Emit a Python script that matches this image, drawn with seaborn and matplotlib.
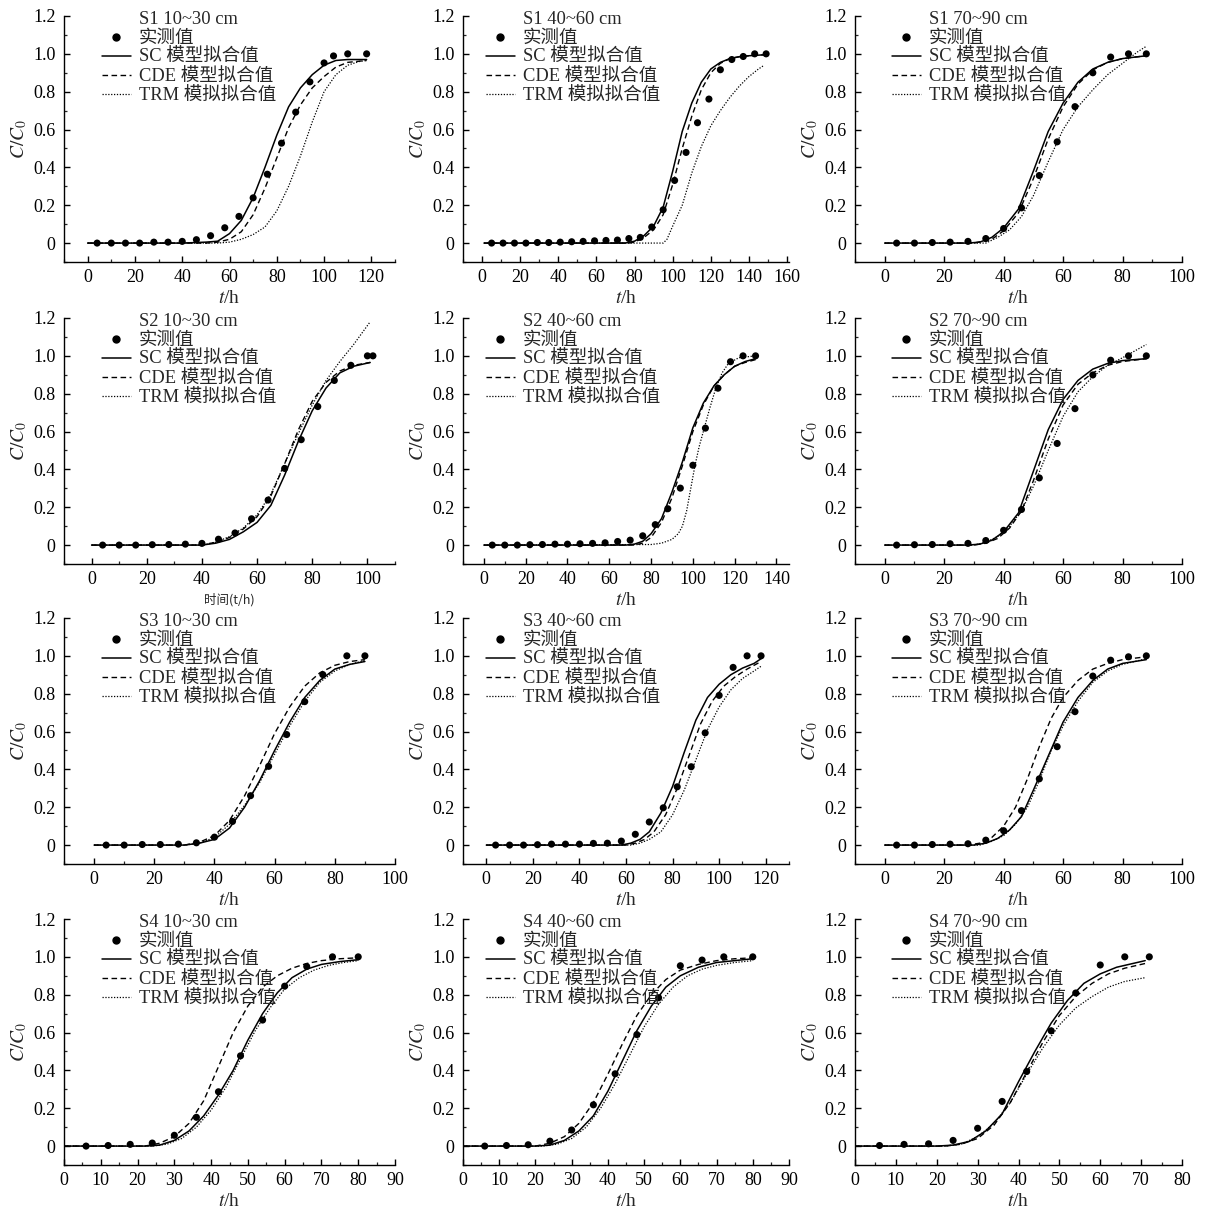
import matplotlib
matplotlib.use("Agg")
import matplotlib.pyplot as plt
import seaborn as sns
from matplotlib.ticker import MultipleLocator, FuncFormatter
from matplotlib.lines import Line2D

# ---------------- data ----------------
TITLES = ["S1 10~30 cm", "S1 40~60 cm", "S1 70~90 cm",
          "S2 10~30 cm", "S2 40~60 cm", "S2 70~90 cm",
          "S3 10~30 cm", "S3 40~60 cm", "S3 70~90 cm",
          "S4 10~30 cm", "S4 40~60 cm", "S4 70~90 cm"]
LEGEND_LABELS = ["实测值", "SC 模型拟合值", "CDE 模型拟合值", "TRM 模拟拟合值"]

# P1  S1 10~30
p1_obs_t = [4, 10, 16, 22, 28, 34, 40, 46, 52, 58, 64, 70, 76, 82, 88, 94, 100, 104, 110, 118]
p1_obs_c = [0, 0, 0, 0, 0.005, 0.005, 0.009, 0.018, 0.039, 0.081, 0.141, 0.239, 0.364, 0.528, 0.692, 0.852, 0.952, 0.989, 1.0, 1.0]
p1_sc_t = [0, 40, 50, 55, 60, 65, 70, 75, 80, 85, 90, 95, 100, 105, 110, 118]
p1_sc_c = [0, 0, 0.005, 0.01, 0.05, 0.12, 0.24, 0.40, 0.57, 0.72, 0.82, 0.89, 0.94, 0.965, 0.97, 0.97]
p1_cde_t = [0, 50, 55, 60, 65, 70, 75, 80, 85, 90, 95, 100, 105, 110, 118]
p1_cde_c = [0, 0, 0.005, 0.02, 0.06, 0.15, 0.29, 0.45, 0.61, 0.73, 0.82, 0.88, 0.93, 0.955, 0.965]
p1_trm_t = [0, 55, 60, 65, 70, 75, 80, 85, 90, 95, 100, 105, 110, 115, 118]
p1_trm_c = [0, 0, 0.005, 0.02, 0.045, 0.085, 0.17, 0.30, 0.46, 0.64, 0.80, 0.89, 0.94, 0.96, 0.965]

# P2  S1 40~60
p2_obs_t = [5, 11, 17, 23, 29, 35, 41, 47, 53, 59, 65, 71, 77, 83, 89, 95, 101, 107, 113, 119, 125, 131, 137, 143, 149]
p2_obs_c = [0, 0, 0, 0, 0.003, 0.003, 0.005, 0.007, 0.009, 0.012, 0.014, 0.016, 0.024, 0.03, 0.085, 0.176, 0.331, 0.479, 0.636, 0.761, 0.916, 0.97, 0.986, 1.0, 1.0]
p2_sc_t = [1, 75, 80, 85, 90, 95, 100, 105, 110, 115, 120, 125, 130, 135, 140, 148]
p2_sc_c = [0, 0, 0.01, 0.04, 0.09, 0.19, 0.38, 0.59, 0.74, 0.85, 0.92, 0.955, 0.975, 0.985, 0.99, 0.995]
p2_cde_t = [1, 77, 80, 85, 90, 95, 100, 105, 110, 115, 120, 125, 130, 135, 140, 148]
p2_cde_c = [0, 0, 0.005, 0.03, 0.07, 0.15, 0.31, 0.50, 0.67, 0.81, 0.90, 0.95, 0.975, 0.985, 0.99, 0.995]
p2_trm_t = [1, 95, 97, 100, 105, 110, 115, 120, 125, 130, 135, 140, 145, 148]
p2_trm_c = [0, 0, 0.02, 0.09, 0.20, 0.37, 0.51, 0.62, 0.70, 0.77, 0.83, 0.88, 0.92, 0.94]

# P3  S1 70~90
p3_obs_t = [4, 10, 16, 22, 28, 34, 40, 46, 52, 58, 64, 70, 76, 82, 88]
p3_obs_c = [0, 0, 0.003, 0.005, 0.009, 0.024, 0.077, 0.186, 0.357, 0.535, 0.721, 0.9, 0.983, 1.0, 1.0]
p3_sc_t = [0, 28, 32, 36, 40, 45, 50, 55, 60, 65, 70, 75, 80, 88]
p3_sc_c = [0, 0, 0.005, 0.03, 0.08, 0.18, 0.38, 0.59, 0.74, 0.85, 0.92, 0.955, 0.975, 0.99]
p3_cde_t = [0, 30, 36, 40, 45, 50, 55, 60, 65, 70, 75, 80, 88]
p3_cde_c = [0, 0, 0.02, 0.065, 0.16, 0.34, 0.55, 0.72, 0.84, 0.915, 0.955, 0.975, 0.99]
p3_trm_t = [0, 34, 38, 42, 46, 50, 55, 60, 65, 70, 75, 80, 85, 88]
p3_trm_c = [0, 0, 0.03, 0.07, 0.14, 0.25, 0.43, 0.60, 0.72, 0.81, 0.89, 0.95, 1.01, 1.04]

# P4  S2 10~30
p4_obs_t = [4, 10, 16, 22, 28, 34, 40, 46, 52, 58, 64, 70, 76, 82, 88, 94, 100, 102]
p4_obs_c = [0, 0, 0, 0.002, 0.003, 0.005, 0.009, 0.031, 0.064, 0.139, 0.238, 0.405, 0.557, 0.732, 0.87, 0.95, 1.0, 1.0]
p4_sc_t = [0, 40, 45, 50, 55, 60, 65, 70, 75, 80, 85, 90, 95, 101]
p4_sc_c = [0, 0, 0.01, 0.03, 0.07, 0.12, 0.21, 0.37, 0.55, 0.71, 0.83, 0.91, 0.945, 0.965]
p4_cde_t = [0, 40, 45, 50, 55, 60, 65, 70, 75, 80, 85, 90, 95, 101]
p4_cde_c = [0, 0, 0.015, 0.04, 0.085, 0.15, 0.26, 0.43, 0.61, 0.76, 0.86, 0.92, 0.95, 0.965]
p4_trm_t = [0, 40, 45, 50, 55, 60, 65, 70, 75, 80, 85, 90, 95, 101]
p4_trm_c = [0, 0, 0.015, 0.045, 0.09, 0.16, 0.27, 0.43, 0.59, 0.74, 0.87, 0.97, 1.06, 1.18]

# P5  S2 40~60
p5_obs_t = [4, 10, 16, 22, 28, 34, 40, 46, 52, 58, 64, 70, 76, 82, 88, 94, 100, 106, 112, 118, 124, 130]
p5_obs_c = [0, 0, 0, 0.002, 0.003, 0.005, 0.005, 0.007, 0.009, 0.012, 0.019, 0.026, 0.049, 0.108, 0.192, 0.301, 0.422, 0.618, 0.829, 0.969, 1.0, 1.0]
p5_sc_t = [0, 68, 72, 76, 80, 85, 90, 95, 100, 105, 110, 115, 120, 125, 130]
p5_sc_c = [0, 0, 0.005, 0.02, 0.06, 0.14, 0.28, 0.44, 0.62, 0.75, 0.84, 0.9, 0.945, 0.97, 0.985]
p5_cde_t = [0, 72, 76, 80, 85, 90, 95, 100, 105, 110, 115, 120, 125, 130]
p5_cde_c = [0, 0, 0.01, 0.04, 0.12, 0.25, 0.42, 0.6, 0.74, 0.84, 0.9, 0.945, 0.965, 0.98]
p5_trm_t = [0, 80, 85, 90, 93, 95, 97, 99, 101, 103, 105, 108, 111, 114, 117, 122, 130]
p5_trm_c = [0, 0.003, 0.01, 0.03, 0.06, 0.1, 0.18, 0.3, 0.42, 0.52, 0.6, 0.72, 0.83, 0.91, 0.96, 0.99, 1.0]

# P6  S2 70~90
p6_obs_t = [4, 10, 16, 22, 28, 34, 40, 46, 52, 58, 64, 70, 76, 82, 88]
p6_obs_c = [0, 0.002, 0.003, 0.007, 0.009, 0.024, 0.078, 0.188, 0.355, 0.537, 0.721, 0.899, 0.977, 1.0, 1.0]
p6_sc_t = [0, 28, 32, 36, 40, 45, 50, 55, 60, 65, 70, 75, 80, 88]
p6_sc_c = [0, 0, 0.005, 0.025, 0.07, 0.17, 0.39, 0.61, 0.77, 0.87, 0.93, 0.96, 0.975, 0.985]
p6_cde_t = [0, 30, 34, 38, 42, 46, 50, 55, 60, 65, 70, 75, 80, 88]
p6_cde_c = [0, 0, 0.01, 0.035, 0.09, 0.18, 0.34, 0.56, 0.74, 0.85, 0.91, 0.95, 0.97, 0.985]
p6_trm_t = [0, 30, 34, 38, 42, 46, 50, 55, 60, 65, 70, 75, 80, 88]
p6_trm_c = [0, 0, 0.015, 0.045, 0.1, 0.18, 0.31, 0.5, 0.68, 0.81, 0.89, 0.95, 0.99, 1.06]

# P7  S3 10~30
p7_obs_t = [4, 10, 16, 22, 28, 34, 40, 46, 52, 58, 64, 70, 76, 84, 90]
p7_obs_c = [0, 0, 0.003, 0.003, 0.005, 0.012, 0.042, 0.125, 0.261, 0.416, 0.584, 0.758, 0.901, 1.0, 1.0]
p7_sc_t = [0, 30, 35, 40, 45, 50, 55, 60, 65, 70, 75, 80, 85, 90]
p7_sc_c = [0, 0, 0.01, 0.03, 0.09, 0.2, 0.34, 0.5, 0.65, 0.78, 0.87, 0.93, 0.955, 0.97]
p7_cde_t = [0, 30, 35, 40, 45, 50, 55, 60, 65, 70, 75, 80, 85, 90]
p7_cde_c = [0, 0, 0.015, 0.05, 0.13, 0.26, 0.42, 0.59, 0.73, 0.84, 0.91, 0.95, 0.97, 0.98]
p7_trm_t = [0, 30, 35, 40, 45, 50, 55, 60, 65, 70, 75, 80, 85, 90]
p7_trm_c = [0, 0, 0.01, 0.04, 0.11, 0.21, 0.33, 0.48, 0.63, 0.76, 0.86, 0.92, 0.955, 0.975]

# P8  S3 40~60
p8_obs_t = [4, 10, 16, 22, 28, 34, 40, 46, 52, 58, 64, 70, 76, 82, 88, 94, 100, 106, 112, 118]
p8_obs_c = [0, 0, 0, 0.002, 0.005, 0.005, 0.005, 0.009, 0.01, 0.021, 0.057, 0.122, 0.197, 0.308, 0.414, 0.593, 0.791, 0.939, 1.0, 1.0]
p8_sc_t = [0, 58, 62, 66, 70, 75, 80, 85, 90, 95, 100, 105, 110, 115, 118]
p8_sc_c = [0, 0, 0.01, 0.03, 0.07, 0.17, 0.31, 0.49, 0.66, 0.78, 0.85, 0.9, 0.935, 0.96, 0.985]
p8_cde_t = [0, 60, 64, 68, 72, 77, 82, 87, 92, 97, 102, 107, 112, 118]
p8_cde_c = [0, 0, 0.01, 0.03, 0.07, 0.16, 0.3, 0.47, 0.64, 0.76, 0.84, 0.89, 0.93, 0.97]
p8_trm_t = [0, 62, 66, 70, 75, 80, 85, 90, 95, 100, 105, 110, 115, 118]
p8_trm_c = [0, 0, 0.01, 0.03, 0.07, 0.16, 0.29, 0.45, 0.61, 0.73, 0.82, 0.88, 0.92, 0.945]

# P9  S3 70~90
p9_obs_t = [4, 10, 16, 22, 28, 34, 40, 46, 52, 58, 64, 70, 76, 82, 88]
p9_obs_c = [0, 0, 0.003, 0.005, 0.007, 0.026, 0.076, 0.182, 0.35, 0.52, 0.705, 0.893, 0.977, 0.995, 1.0]
p9_sc_t = [0, 30, 34, 38, 42, 46, 50, 55, 60, 65, 70, 75, 80, 88]
p9_sc_c = [0, 0, 0.01, 0.035, 0.08, 0.15, 0.29, 0.47, 0.65, 0.78, 0.87, 0.93, 0.96, 0.98]
p9_cde_t = [0, 28, 32, 36, 40, 44, 48, 52, 56, 60, 65, 70, 75, 80, 88]
p9_cde_c = [0, 0, 0.01, 0.04, 0.1, 0.2, 0.35, 0.52, 0.67, 0.78, 0.87, 0.93, 0.96, 0.98, 0.995]
p9_trm_t = [0, 32, 36, 40, 44, 48, 52, 56, 60, 65, 70, 75, 80, 88]
p9_trm_c = [0, 0, 0.02, 0.05, 0.11, 0.2, 0.34, 0.5, 0.63, 0.76, 0.86, 0.92, 0.955, 0.985]

# P10 S4 10~30
p10_obs_t = [6, 12, 18, 24, 30, 36, 42, 48, 54, 60, 66, 73, 80]
p10_obs_c = [0, 0.003, 0.009, 0.016, 0.057, 0.152, 0.287, 0.477, 0.666, 0.845, 0.949, 1.0, 1.0]
p10_sc_t = [0, 22, 26, 30, 34, 38, 42, 46, 50, 54, 58, 62, 66, 70, 75, 80]
p10_sc_c = [0, 0, 0.005, 0.03, 0.08, 0.16, 0.27, 0.40, 0.56, 0.70, 0.81, 0.89, 0.935, 0.96, 0.975, 0.985]
p10_cde_t = [0, 22, 26, 30, 34, 38, 42, 46, 50, 54, 58, 62, 66, 70, 75, 80]
p10_cde_c = [0, 0, 0.015, 0.05, 0.12, 0.24, 0.42, 0.6, 0.74, 0.84, 0.9, 0.94, 0.965, 0.98, 0.99, 0.995]
p10_trm_t = [0, 24, 28, 32, 36, 40, 44, 48, 52, 56, 60, 64, 68, 72, 76, 80]
p10_trm_c = [0, 0, 0.01, 0.04, 0.1, 0.19, 0.31, 0.46, 0.61, 0.73, 0.83, 0.89, 0.93, 0.955, 0.97, 0.98]

# P11 S4 40~60
p11_obs_t = [6, 12, 18, 24, 30, 36, 42, 48, 54, 60, 66, 72, 80]
p11_obs_c = [0, 0.003, 0.007, 0.026, 0.085, 0.218, 0.382, 0.589, 0.784, 0.953, 0.983, 1.0, 1.0]
p11_sc_t = [0, 20, 24, 28, 32, 36, 40, 44, 48, 52, 56, 60, 65, 70, 75, 80]
p11_sc_c = [0, 0, 0.005, 0.03, 0.08, 0.16, 0.29, 0.45, 0.61, 0.74, 0.84, 0.9, 0.945, 0.97, 0.98, 0.99]
p11_cde_t = [0, 20, 24, 28, 32, 36, 40, 44, 48, 52, 56, 60, 65, 70, 75, 80]
p11_cde_c = [0, 0, 0.015, 0.05, 0.12, 0.23, 0.38, 0.54, 0.69, 0.8, 0.88, 0.93, 0.96, 0.98, 0.99, 0.995]
p11_trm_t = [0, 22, 26, 30, 34, 38, 42, 46, 50, 54, 58, 62, 66, 70, 75, 80]
p11_trm_c = [0, 0, 0.01, 0.04, 0.1, 0.2, 0.33, 0.48, 0.63, 0.75, 0.84, 0.9, 0.935, 0.955, 0.97, 0.98]

# P12 S4 70~90
p12_obs_t = [6, 12, 18, 24, 30, 36, 42, 48, 54, 60, 66, 72]
p12_obs_c = [0.003, 0.009, 0.012, 0.03, 0.094, 0.236, 0.394, 0.609, 0.809, 0.957, 1.0, 1.0]
p12_sc_t = [0, 20, 24, 28, 32, 36, 40, 44, 48, 52, 56, 60, 64, 68, 71]
p12_sc_c = [0, 0, 0.005, 0.025, 0.08, 0.17, 0.34, 0.5, 0.65, 0.77, 0.86, 0.91, 0.945, 0.965, 0.98]
p12_cde_t = [0, 22, 26, 30, 34, 38, 42, 46, 50, 54, 58, 62, 66, 71]
p12_cde_c = [0, 0, 0.01, 0.04, 0.11, 0.23, 0.39, 0.55, 0.69, 0.79, 0.86, 0.91, 0.94, 0.965]
p12_trm_t = [0, 22, 26, 30, 34, 38, 42, 46, 50, 54, 58, 62, 66, 71]
p12_trm_c = [0, 0, 0.01, 0.05, 0.12, 0.23, 0.38, 0.52, 0.64, 0.73, 0.79, 0.84, 0.87, 0.89]

PANELS = [
    (p1_obs_t, p1_obs_c, p1_sc_t, p1_sc_c, p1_cde_t, p1_cde_c, p1_trm_t, p1_trm_c),
    (p2_obs_t, p2_obs_c, p2_sc_t, p2_sc_c, p2_cde_t, p2_cde_c, p2_trm_t, p2_trm_c),
    (p3_obs_t, p3_obs_c, p3_sc_t, p3_sc_c, p3_cde_t, p3_cde_c, p3_trm_t, p3_trm_c),
    (p4_obs_t, p4_obs_c, p4_sc_t, p4_sc_c, p4_cde_t, p4_cde_c, p4_trm_t, p4_trm_c),
    (p5_obs_t, p5_obs_c, p5_sc_t, p5_sc_c, p5_cde_t, p5_cde_c, p5_trm_t, p5_trm_c),
    (p6_obs_t, p6_obs_c, p6_sc_t, p6_sc_c, p6_cde_t, p6_cde_c, p6_trm_t, p6_trm_c),
    (p7_obs_t, p7_obs_c, p7_sc_t, p7_sc_c, p7_cde_t, p7_cde_c, p7_trm_t, p7_trm_c),
    (p8_obs_t, p8_obs_c, p8_sc_t, p8_sc_c, p8_cde_t, p8_cde_c, p8_trm_t, p8_trm_c),
    (p9_obs_t, p9_obs_c, p9_sc_t, p9_sc_c, p9_cde_t, p9_cde_c, p9_trm_t, p9_trm_c),
    (p10_obs_t, p10_obs_c, p10_sc_t, p10_sc_c, p10_cde_t, p10_cde_c, p10_trm_t, p10_trm_c),
    (p11_obs_t, p11_obs_c, p11_sc_t, p11_sc_c, p11_cde_t, p11_cde_c, p11_trm_t, p11_trm_c),
    (p12_obs_t, p12_obs_c, p12_sc_t, p12_sc_c, p12_cde_t, p12_cde_c, p12_trm_t, p12_trm_c),
]
XLIMS = [(-10, 130), (-10, 161), (-10, 100),
         (-10, 110), (-10, 146), (-10, 100),
         (-10, 100), (-10, 130), (-10, 100),
         (0, 90), (0, 90), (0, 80)]
XMAJOR = [20, 20, 20, 20, 20, 20, 20, 20, 20, 10, 10, 10]

# ---------------- style ----------------
sns.set_theme(style="ticks")
plt.rcParams["font.family"] = ["Liberation Serif", "Noto Sans CJK SC"]
plt.rcParams["mathtext.fontset"] = "stix"
plt.rcParams["axes.linewidth"] = 1.0

W, H = 1208, 1213
fig = plt.figure(figsize=(W / 100, H / 100), dpi=100)

COL_LEFT = [64, 463, 855]
COL_W = [331, 326, 327]
ROW_TOP = [16, 318, 618, 919]
AX_H = 246
LEG_OFF = [38, 23, 37]

SOLID = "-"
DASHED = (0, (4.0, 2.5))
DOTTED = (0, (1.0, 1.3))
FS = 13
LFS = 13.3

yfmt = FuncFormatter(lambda v, p: "0" if abs(v) < 1e-9 else f"{v:.1f}")

for i in range(12):
    r, c = divmod(i, 3)
    l, w, top = COL_LEFT[c], COL_W[c], ROW_TOP[r]
    ax = fig.add_axes([l / W, 1 - (top + AX_H) / H, w / W, AX_H / H])
    ot, oc, st, sc, ct, cc, tt, tc = PANELS[i]

    sns.lineplot(x=st, y=sc, ax=ax, color="black", lw=1.1, linestyle=SOLID,
                 estimator=None, sort=False, legend=False)
    sns.lineplot(x=ct, y=cc, ax=ax, color="black", lw=1.0, linestyle=DASHED,
                 estimator=None, sort=False, legend=False)
    sns.lineplot(x=tt, y=tc, ax=ax, color="black", lw=0.9, linestyle=DOTTED,
                 estimator=None, sort=False, legend=False)
    sns.scatterplot(x=ot, y=oc, ax=ax, color="black", s=26, edgecolor="none",
                    legend=False, zorder=5)

    ax.set_xlim(*XLIMS[i])
    ax.set_ylim(-0.1, 1.2)
    ax.xaxis.set_major_locator(MultipleLocator(XMAJOR[i]))
    ax.xaxis.set_minor_locator(MultipleLocator(XMAJOR[i] / 2))
    ax.yaxis.set_major_locator(MultipleLocator(0.2))
    ax.yaxis.set_minor_locator(MultipleLocator(0.1))
    ax.yaxis.set_major_formatter(yfmt)
    ax.tick_params(which="major", direction="in", length=4, width=1.0,
                   labelsize=FS, colors="black")
    ax.tick_params(which="minor", direction="in", length=2.2, width=0.9)
    ax.tick_params(axis="y", pad=6)
    ax.tick_params(axis="x", pad=5)
    for s in ("top", "right"):
        ax.spines[s].set_visible(False)
    for s in ("left", "bottom"):
        ax.spines[s].set_color("black")

    ax.set_ylabel(r"$C/C_0$", fontsize=FS + 1, labelpad=3)
    if i == 3:
        ax.set_xlabel("时间(t/h)", fontsize=9, labelpad=4,
                      family=["Noto Sans CJK SC", "DejaVu Sans"])
    else:
        ax.set_xlabel(r"$t$/h", fontsize=FS + 1, labelpad=3)

    handles = [
        Line2D([], [], linestyle="none", label=TITLES[i]),
        Line2D([], [], linestyle="none", marker="o", color="black", markersize=5,
               label=LEGEND_LABELS[0]),
        Line2D([], [], color="black", lw=1.1, linestyle=SOLID, label=LEGEND_LABELS[1]),
        Line2D([], [], color="black", lw=1.0, linestyle=DASHED, label=LEGEND_LABELS[2]),
        Line2D([], [], color="black", lw=0.9, linestyle=DOTTED, label=LEGEND_LABELS[3]),
    ]
    ax.legend(handles=handles, loc="upper left",
              bbox_to_anchor=(LEG_OFF[c] / w, 1.0 + 5 / AX_H),
              frameon=False, fontsize=LFS, handlelength=1.55, handletextpad=0.45,
              labelspacing=0.12, borderpad=0.0, borderaxespad=0.0)

fig.savefig("out.png", dpi=100, facecolor="white")
